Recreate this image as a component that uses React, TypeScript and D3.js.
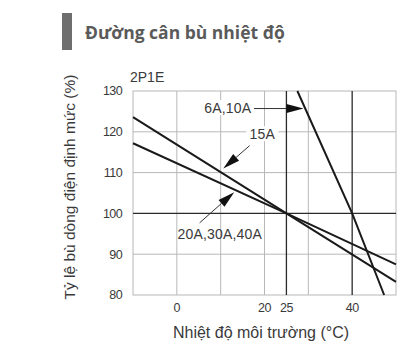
import React from "react";
import * as d3 from "d3";

const title = "Đường cân bù nhiệt độ";
const subtitle = "2P1E";
const xTitle = "Nhiệt độ môi trường (°C)";
const yTitle = "Tỷ lệ bù dòng điện định mức (%)";

const xTicks = [0, 20, 25, 40];
const xGrid = [0, 10, 20, 30];
const xDark = [25, 40];
const yTicks = [80, 90, 100, 110, 120, 130];
const yDark = [100];

// series: [temp, %]
const s15A: [number, number][] = [[-10, 123.6], [25, 100], [50, 83.2]];
const s20A: [number, number][] = [[-10, 117.2], [25, 100], [50, 87.5]];
const s6A: [number, number][] = [[27.5, 130], [40, 100], [47.3, 80]];

// annotations: label, text anchor point, arrow start, arrow tip
const labels = [
  { text: "6A,10A", at: [17, 125.8], anchor: "end", from: [17.6, 125.7], to: [28.9, 125.7] },
  { text: "15A", at: [19.5, 119.4], anchor: "middle", from: [16.6, 116.6], to: [10.6, 111] },
  { text: "20A,30A,40A", at: [9.8, 95.0], anchor: "middle", from: [5.2, 97.7], to: [13.1, 105.2] },
];

const W = 414, H = 348;
const M = { left: 133, right: 396, top: 91, bottom: 295 };

export default function App() {
  const x = d3.scaleLinear().domain([-10, 50]).range([M.left, M.right]);
  const y = d3.scaleLinear().domain([80, 130]).range([M.bottom, M.top]);
  const line = d3.line<[number, number]>().x(d => x(d[0])).y(d => y(d[1]));
  const gridC = "#b8b8b8";
  const darkC = "#2a2a2a";
  const textC = "#3a3a3a";
  const tickFont = "'Liberation Sans', Arial, sans-serif";

  const arrow = (from: number[], to: number[], key: number) => {
    const x1 = x(from[0]), y1 = y(from[1]), x2 = x(to[0]), y2 = y(to[1]);
    const ang = Math.atan2(y2 - y1, x2 - x1);
    const L = 17, Wd = 4.5;
    const bx = x2 - L * Math.cos(ang), by = y2 - L * Math.sin(ang);
    const px = -Math.sin(ang) * Wd, py = Math.cos(ang) * Wd;
    return (
      <g key={key}>
        <line x1={x1} y1={y1} x2={bx} y2={by} stroke="#333" strokeWidth={1} />
        <polygon points={`${x2},${y2} ${bx + px},${by + py} ${bx - px},${by - py}`} fill="#111" />
      </g>
    );
  };

  return (
    <svg width={W} height={H} style={{ position: "absolute", left: 0, top: 0, background: "#fff" }}>
      <rect x={62} y={13} width={10} height={37} fill="#6e6e6e" />
      <text x={85} y={39} fontFamily="'Open Sans', sans-serif" fontWeight={700} fontSize={17.5} fill="#5a5a5a">{title}</text>
      <text x={130} y={82} fontFamily={tickFont} fontSize={14} fill={textC}>{subtitle}</text>

      {/* grid */}
      {xGrid.map(v => (
        <line key={"xg" + v} x1={x(v)} x2={x(v)} y1={M.top} y2={M.bottom} stroke={gridC} strokeWidth={1} />
      ))}
      {yTicks.filter(v => v > 80 && v < 130 && !yDark.includes(v)).map(v => (
        <line key={"yg" + v} x1={M.left} x2={M.right} y1={y(v)} y2={y(v)} stroke={gridC} strokeWidth={1} />
      ))}
      <rect x={M.left} y={M.top} width={M.right - M.left} height={M.bottom - M.top} fill="none" stroke={gridC} strokeWidth={1} />
      {xDark.map(v => (
        <line key={"xd" + v} x1={x(v)} x2={x(v)} y1={M.top} y2={M.bottom} stroke={darkC} strokeWidth={1.3} />
      ))}
      {yDark.map(v => (
        <line key={"yd" + v} x1={M.left} x2={M.right} y1={y(v)} y2={y(v)} stroke={darkC} strokeWidth={1.3} />
      ))}

      {/* label backgrounds */}
      <rect x={x(19.5) - 16} y={y(119.4) - 8} width={32} height={15} fill="#fff" />
      <rect x={x(17) - 53} y={y(125.8) - 8} width={56} height={15} fill="#fff" />

      {/* series */}
      {[s15A, s20A, s6A].map((s, i) => (
        <path key={i} d={line(s) || ""} fill="none" stroke="#1a1a1a" strokeWidth={2} />
      ))}

      {/* annotations */}
      {labels.map((l, i) => (
        <g key={"l" + i}>
          <text x={x(l.at[0])} y={y(l.at[1])} dy="0.35em" textAnchor={l.anchor as any} fontFamily={tickFont} fontSize={14} fill={textC} letterSpacing={0.2}>{l.text}</text>
          {arrow(l.from, l.to, i)}
        </g>
      ))}

      {/* y ticks */}
      {yTicks.map(v => (
        <text key={"yt" + v} x={122} y={y(v)} dy="0.35em" textAnchor="end" fontFamily={tickFont} fontSize={12.5} fill={textC} letterSpacing={-0.6}>{v}</text>
      ))}
      {/* x ticks */}
      {xTicks.map(v => (
        <text key={"xt" + v} x={x(v)} y={312} textAnchor="middle" fontFamily={tickFont} fontSize={12.5} fill={textC} letterSpacing={-0.5}>{v}</text>
      ))}
      <text x={261} y={338} textAnchor="middle" fontFamily={tickFont} fontSize={16} fill={textC}>{xTitle}</text>
      <text transform={`translate(70,187) rotate(-90)`} dy="0.35em" textAnchor="middle" fontFamily={tickFont} fontSize={15.5} fill={textC}>{yTitle}</text>
    </svg>
  );
}
